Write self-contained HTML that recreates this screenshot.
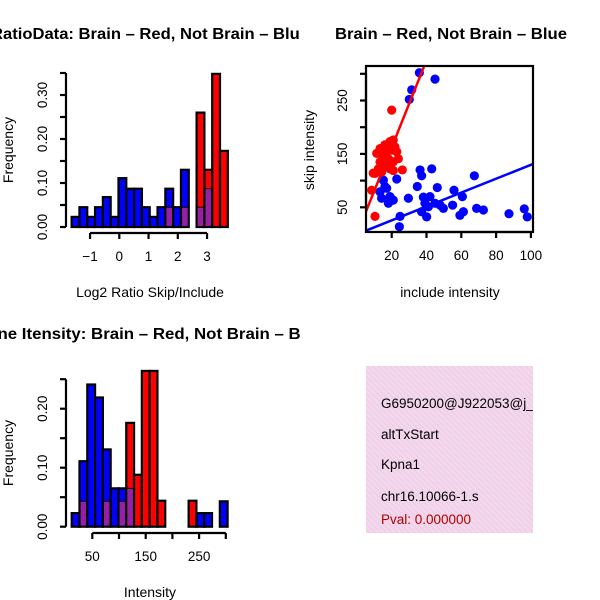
<!DOCTYPE html>
<html><head><meta charset="utf-8">
<style>
html,body{margin:0;padding:0;background:#fff;}
svg{display:block;font-family:"Liberation Sans",sans-serif;}
</style></head>
<body>
<svg id="chart" width="600" height="600" viewBox="0 0 600 600" xmlns="http://www.w3.org/2000/svg">
<defs>
  <pattern id="purp" width="4" height="4" patternUnits="userSpaceOnUse" patternTransform="rotate(45)">
    <rect width="4" height="4" fill="#8a1fb0"/>
    <rect width="2" height="4" fill="#a0209a"/>
  </pattern>
  <pattern id="pinkhatch" width="4" height="4" patternUnits="userSpaceOnUse" patternTransform="rotate(-45)">
    <rect width="4" height="4" fill="#f8d4f3"/>
    <rect width="1.2" height="4" fill="#e2d4d8"/>
  </pattern>
  <clipPath id="cTL"><rect x="0" y="0" width="300" height="300"/></clipPath>
  <clipPath id="cTR"><rect x="300" y="0" width="300" height="300"/></clipPath>
  <clipPath id="cBL"><rect x="0" y="300" width="300" height="300"/></clipPath>
  <clipPath id="cBR"><rect x="366" y="366" width="167" height="167"/></clipPath>
  <clipPath id="cScatter"><rect x="366" y="66" width="167" height="166"/></clipPath>
</defs>
<g id="tl" clip-path="url(#cTL)">
  <text x="150" y="39" text-anchor="middle" font-size="16" font-weight="bold" textLength="318" lengthAdjust="spacingAndGlyphs">RatioData: Brain – Red, Not Brain – Blue</text>
  <text x="150" y="297" text-anchor="middle" font-size="14">Log2 Ratio Skip/Include</text>
  <text transform="translate(13,150) rotate(-90)" text-anchor="middle" font-size="14">Frequency</text>
</g>
<g id="tr" clip-path="url(#cTR)">
  <text x="451" y="39" text-anchor="middle" font-size="16" font-weight="bold" textLength="232" lengthAdjust="spacingAndGlyphs">Brain – Red, Not Brain – Blue</text>
  <text x="450" y="297" text-anchor="middle" font-size="14">include intensity</text>
  <text transform="translate(314,150) rotate(-90)" text-anchor="middle" font-size="14">skip intensity</text>
</g>
<g id="bl" clip-path="url(#cBL)">
  <text x="150" y="339" text-anchor="middle" font-size="16" font-weight="bold" textLength="350" lengthAdjust="spacingAndGlyphs">Gene Itensity: Brain – Red, Not Brain – Blue</text>
  <text x="150" y="597" text-anchor="middle" font-size="14">Intensity</text>
  <text transform="translate(13,453) rotate(-90)" text-anchor="middle" font-size="14">Frequency</text>
</g>
<g id="br">
  <rect x="366" y="366" width="167" height="167" fill="url(#pinkhatch)"/>
  <g clip-path="url(#cBR)" font-size="13.5">
    <text x="381" y="408">G6950200@J922053@j_</text>
    <text x="381" y="439">altTxStart</text>
    <text x="381" y="469">Kpna1</text>
    <text x="381" y="501">chr16.10066-1.s</text>
    <text x="381" y="524" fill="#b00000">Pval: 0.000000</text>
  </g>
</g>
</svg>
<script>
// ---- Ratio histogram data ----
const ratioBinStart = -1.63;
const ratioBinWidth = 0.267;
const ratioBlue = [0.023,0.045,0.023,0.045,0.068,0.023,0.111,0.087,0.087,0.045,0.023,0.045,0.087,0.045,0.13,0,0.045,0.087,0,0];
const ratioRed  = [0,0,0,0,0,0,0,0,0,0,0,0,0.045,0,0.045,0,0.26,0.13,0.348,0.173];
const ratioXTicks = [-1,0,1,2,3];
const ratioYTicks = [0,0.05,0.10,0.15,0.20,0.25,0.30,0.35];
const ratioYLabels = ["0.00","0.10","0.20","0.30"];
const ratioYLabelVals = [0,0.10,0.20,0.30];
// ---- Intensity histogram data ----
const intBinStart = 11.4;
const intBinWidth = 14.6;
const intBlue = [0.023,0.111,0.241,0.219,0.131,0.065,0.065,0.065,0,0,0,0,0,0,0,0,0.023,0.023,0,0.043];
const intRed  = [0,0.043,0,0,0.043,0,0.043,0.176,0.088,0.264,0.264,0.044,0,0,0,0.044,0,0,0,0];
const intXTicks = [50,100,150,200,250,300];
const intXLabels = ["50","150","250"];
const intXLabelVals = [50,150,250];
const intYTicks = [0,0.05,0.10,0.15,0.20,0.25];
const intYLabels = ["0.00","0.10","0.20"];
const intYLabelVals = [0,0.10,0.20];
// ---- Scatter data ----
const blueX = [35.9,44.9,31.5,30.1,22.9,36.3,43,37.2,67.5,17.1,34.7,46.2,55.8,13.3,19,14.2,18.1,29.6,38.2,42,60.6,39.1,44.9,49.7,55,37.2,40.1,59.2,61.2,68.8,72.7,87.4,96.2,97.9,24.8,24.4,47.8,15.2,16.1,20.9,41.1];
const blueY = [302,290,270,252,103,120,122,109,109,85.6,89,87,82,79,70,67,57.5,67,69,70,70,57.5,57.5,48,54,41.7,32,35,41.7,48,45,38,47,32,33,13.7,54,101,89,63.5,51];
const redX = [20,10.4,8.5,26.1,10.4,11.4,13.3,16.1,19,20.9,17.1,20,22.9,15.2,18.1,20.9,12.3,16.1,19,20.9,13.3,23.8,14.2,17.1,19,21.9,15.2,9.4];
const redY = [232,33,82,120,113.6,151,160,167,173,176,157,157,154,141,141,135,122,126,122,119,135,141,116,129,163,163,154,114];
const redFit = [-0.5, 8.14];   // intercept, slope
const blueFit = [-0.5, 1.30];
const scatXTicks = [20,40,60,80,100];
const scatYTicks = [50,100,150,200,250,300];
const scatYLabels = ["50","150","250"];
const scatYLabelVals = [50,150,250];

const NS = "http://www.w3.org/2000/svg";
function mk(tag, attrs, parent){
  const e = document.createElementNS(NS, tag);
  for (const k in attrs) e.setAttribute(k, attrs[k]);
  parent.appendChild(e);
  return e;
}

function drawHist(g, prefix, start, width, blue, red, xs, ys, base){
  for (let i=0;i<blue.length;i++){
    const x0 = xs(start + i*width), x1 = xs(start + (i+1)*width);
    const b = blue[i], r = red[i];
    const top = Math.max(b, r), ov = Math.min(b, r);
    if (top <= 0) continue;
    const col = r > b ? "#ff0000" : "#0000ff";
    const bar = mk("rect", {x:x0, y:ys(top), width:x1-x0, height:base-ys(top), fill:col, stroke:"#000", "stroke-width":2.2}, g);
    
    
    if (ov > 0){
      const o = mk("rect", {x:x0+1.1, y:ys(ov), width:x1-x0-2.2, height:base-ys(ov)-1.1, fill:"url(#purp)"}, g);
      
      
      mk("line", {x1:x0, x2:x1, y1:ys(ov), y2:ys(ov), stroke:"#000", "stroke-width":1}, g);
    }
  }
}

function axisX(g, name, ticks, labelVals, labels, xs, y){
  const ax = mk("g", {}, g);
  
  
  mk("line", {x1:xs(ticks[0]), x2:xs(ticks[ticks.length-1]), y1:y, y2:y, stroke:"#000", "stroke-width":2.2}, ax);
  ticks.forEach(t => mk("line", {x1:xs(t), x2:xs(t), y1:y, y2:y+6, stroke:"#000", "stroke-width":2.2}, ax));
  labelVals.forEach((v,i) => { const t = mk("text", {x:xs(v), y:y+28, "text-anchor":"middle", "font-size":13.5}, ax); t.textContent = labels[i]; });
}
function axisY(g, name, ticks, labelVals, labels, ys, x){
  const ax = mk("g", {}, g);
  
  
  mk("line", {x1:x, x2:x, y1:ys(ticks[0]), y2:ys(ticks[ticks.length-1]), stroke:"#000", "stroke-width":2.2}, ax);
  ticks.forEach(t => mk("line", {x1:x, x2:x-6, y1:ys(t), y2:ys(t), stroke:"#000", "stroke-width":2.2}, ax));
  labelVals.forEach((v,i) => { const t = mk("text", {transform:"translate("+(x-19)+","+ys(v)+") rotate(-90)", "text-anchor":"middle", "font-size":13.5}, ax); t.textContent = labels[i]; });
}

// Top-left
const tl = document.getElementById("tl");
const rX = v => 119.3 + v*29.25;
const rY = v => 227 - v*440;
drawHist(tl, "ratio", ratioBinStart, ratioBinWidth, ratioBlue, ratioRed, rX, rY, rY(0));
axisX(tl, "ratio-x-axis", ratioXTicks, ratioXTicks, ratioXTicks.map(String).map(s=>s.replace("-","−")), rX, 233);
axisY(tl, "ratio-y-axis", ratioYTicks, ratioYLabelVals, ratioYLabels, rY, 66);

// Bottom-left
const bl = document.getElementById("bl");
const iX = v => 92.3 + (v-50)*0.534;
const iY = v => 526.7 - v*590;
drawHist(bl, "intensity", intBinStart, intBinWidth, intBlue, intRed, iX, iY, iY(0));
axisX(bl, "intensity-x-axis", intXTicks, intXLabelVals, intXLabels, iX, 533);
axisY(bl, "intensity-y-axis", intYTicks, intYLabelVals, intYLabels, iY, 66);

// Scatter
const tr = document.getElementById("tr");
const sX = v => 356.9 + v*1.74;
const sY = v => 207.3 - (v-50)*0.534;
const pts = mk("g", {"clip-path":"url(#cScatter)"}, tr);


blueX.forEach((x,i) => {
  const c = mk("circle", {cx:sX(x), cy:sY(blueY[i]), r:4.6, fill:"#0000ff"}, pts);
  
  
});
redX.forEach((x,i) => {
  const c = mk("circle", {cx:sX(x), cy:sY(redY[i]), r:4.6, fill:"#ff0000"}, pts);
  
  
});
const xa = 0, xb = 110;
const rl = mk("line", {x1:sX(xa), y1:sY(redFit[0]+redFit[1]*xa), x2:sX(xb), y2:sY(redFit[0]+redFit[1]*xb), stroke:"#ff0000", "stroke-width":2.5}, pts);


const bline = mk("line", {x1:sX(xa), y1:sY(blueFit[0]+blueFit[1]*xa), x2:sX(xb), y2:sY(blueFit[0]+blueFit[1]*xb), stroke:"#0000ff", "stroke-width":2.5}, pts);


const box = mk("rect", {x:366, y:66, width:167, height:166, fill:"none", stroke:"#000", "stroke-width":2.2}, tr);


axisX(tr, "scatter-x-axis", scatXTicks, scatXTicks, scatXTicks.map(String), sX, 232);
axisY(tr, "scatter-y-axis", scatYTicks, scatYLabelVals, scatYLabels, sY, 366);
</script>
</body></html>
